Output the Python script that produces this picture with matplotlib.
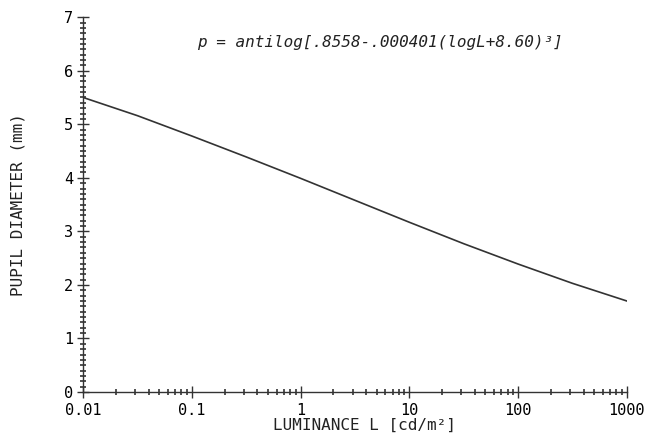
import matplotlib
matplotlib.use("Agg")
import matplotlib.pyplot as plt
import matplotlib.ticker as mticker

# luminance (cd/m2) and pupil diameter (mm)
luminance = [0.01, 0.0316, 0.1, 0.316, 1, 3.16, 10, 31.6, 100, 316, 1000]
diameter = [5.50, 5.16, 4.78, 4.39, 3.99, 3.58, 3.17, 2.77, 2.39, 2.03, 1.70]

x_ticks = [0.01, 0.1, 1, 10, 100, 1000]
x_labels = ["0.01", "0.1", "1", "10", "100", "1000"]
y_ticks = [0, 1, 2, 3, 4, 5, 6, 7]

mono = "DejaVu Sans Mono"

fig = plt.figure(figsize=(6.55, 4.4), dpi=100)
ax = fig.add_axes([0.127, 0.109, 0.830, 0.852])

ax.plot(luminance, diameter, color="#333333", lw=1.2)

ax.set_xscale("log")
ax.set_xlim(0.01, 1000)
ax.set_ylim(0, 7)

ax.set_xticks(x_ticks)
ax.set_xticklabels(x_labels, fontfamily=mono, fontsize=11)
ax.xaxis.set_minor_locator(mticker.LogLocator(base=10, subs=range(2, 10), numticks=20))
ax.xaxis.set_minor_formatter(mticker.NullFormatter())
ax.set_yticks(y_ticks)
ax.set_yticklabels([str(v) for v in y_ticks], fontfamily=mono, fontsize=11)
ax.yaxis.set_minor_locator(mticker.MultipleLocator(0.1))

ax.tick_params(which="major", direction="inout", length=8, width=1, color="#333333")
ax.tick_params(axis="x", which="major", pad=4)
ax.tick_params(axis="y", which="major", pad=3)
ax.tick_params(which="minor", direction="inout", length=4, width=1.2, color="#333333")

for s in ["top", "right"]:
    ax.spines[s].set_visible(False)
for s in ["left", "bottom"]:
    ax.spines[s].set_color("#333333")
    ax.spines[s].set_linewidth(1.0)

ax.set_xlabel("LUMINANCE L [cd/m²]", fontfamily=mono, fontsize=11.5, color="#222222")
ax.xaxis.set_label_coords(0.518, -0.068)
ax.set_ylabel("PUPIL DIAMETER (mm)", fontfamily=mono, fontsize=11.5, color="#222222", labelpad=28)

ax.text(5.4, 6.53, "p = antilog[.8558-.000401(logL+8.60)³]",
        fontfamily=mono, style="italic", fontsize=11.5, ha="center", va="center", color="#222222")

fig.savefig("out.png", dpi=100)
